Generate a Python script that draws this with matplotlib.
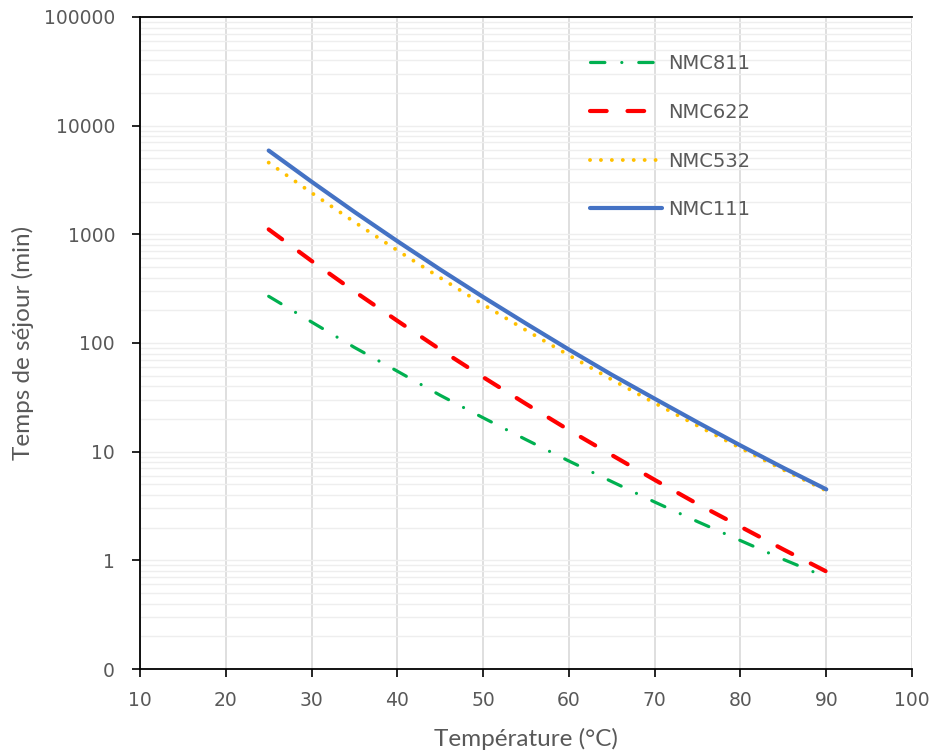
import matplotlib
matplotlib.use("Agg")
import matplotlib.pyplot as plt
from matplotlib.ticker import FixedLocator, FixedFormatter, LogLocator, NullFormatter

# temperature (°C) and residence time (min)
temperature = [25, 30, 35, 40, 45, 50, 55, 60, 65, 70, 75, 80, 85, 90]
nmc811 = [269, 156, 91, 55, 33, 20.5, 12.9, 8.2, 5.3, 3.44, 2.27, 1.52, 1.02, 0.70]
nmc622 = [1110, 569, 298, 160, 87, 48.5, 27.5, 15.8, 9.3, 5.5, 3.3, 2.04, 1.26, 0.79]
nmc532 = [4570, 2410, 1297, 711, 398, 226, 131, 77, 46, 28, 17.3, 10.8, 6.8, 4.37]
nmc111 = [5900, 3050, 1607, 865, 474, 265, 151, 87, 51, 30.7, 18.6, 11.4, 7.1, 4.5]

y_ticks = [0.1, 1, 10, 100, 1000, 10000, 100000]
y_tick_labels = ["0", "1", "10", "100", "1000", "10000", "100000"]
x_ticks = list(range(10, 101, 10))

text_grey = "#595959"
plt.rcParams["font.family"] = ["DejaVu Sans"]

fig = plt.figure(figsize=(9.36, 7.55), dpi=100)
ax = fig.add_axes([0.1496, 0.1139, 0.8248, 0.8636])

ax.plot(temperature, nmc811, color="#00B050", linewidth=2.3,
        dashes=(4.5, 5.3, 0.01, 5.3), dash_capstyle="round", label="NMC811")
ax.plot(temperature, nmc622, color="#FF0000", linewidth=3.0,
        dashes=(4.0, 5.0), dash_capstyle="round", label="NMC622")
ax.plot(temperature, nmc532, color="#FFC000", linewidth=2.8,
        dashes=(0.01, 2.8), dash_capstyle="round", label="NMC532")
ax.plot(temperature, nmc111, color="#4472C4", linewidth=3.0,
        solid_capstyle="round", label="NMC111")

ax.set_yscale("log")
ax.set_xlim(10, 100)
ax.set_ylim(0.1, 100000)

ax.yaxis.set_major_locator(FixedLocator(y_ticks))
ax.yaxis.set_major_formatter(FixedFormatter(y_tick_labels))
ax.yaxis.set_minor_locator(LogLocator(base=10, subs=range(2, 10), numticks=20))
ax.yaxis.set_minor_formatter(NullFormatter())
ax.set_xticks(x_ticks)

# light horizontal lines at every minor/major decade value, darker vertical ones
ax.grid(True, which="both", axis="y", color="#eeeeee", linewidth=1.0)
ax.grid(True, which="major", axis="x", color="#d9d9d9", linewidth=1.2)
ax.set_axisbelow(True)

ax.tick_params(axis="both", which="major", direction="out", length=6, width=1.2,
               colors="black", labelcolor=text_grey, labelsize=13.5)
ax.tick_params(axis="y", which="major", pad=12)
ax.tick_params(axis="x", which="major", pad=10)
ax.tick_params(axis="y", which="minor", length=0)

for side in ["left", "bottom", "top"]:
    ax.spines[side].set_color("black")
    ax.spines[side].set_linewidth(1.3)
ax.spines["right"].set_visible(False)

ax.set_xlabel("Température (°C)", fontsize=17.5, color=text_grey,
              family=["Lato", "DejaVu Sans"], labelpad=13)
ax.set_ylabel("Temps de séjour (min)", fontsize=17.5, color=text_grey,
              family=["Lato", "DejaVu Sans"], labelpad=7)

leg = ax.legend(loc="upper left", bbox_to_anchor=(0.56, 0.97), frameon=False,
                fontsize=14, handlelength=3.7, handletextpad=0.3,
                labelspacing=1.53, labelcolor=text_grey)

fig.savefig("out.png", dpi=100)
